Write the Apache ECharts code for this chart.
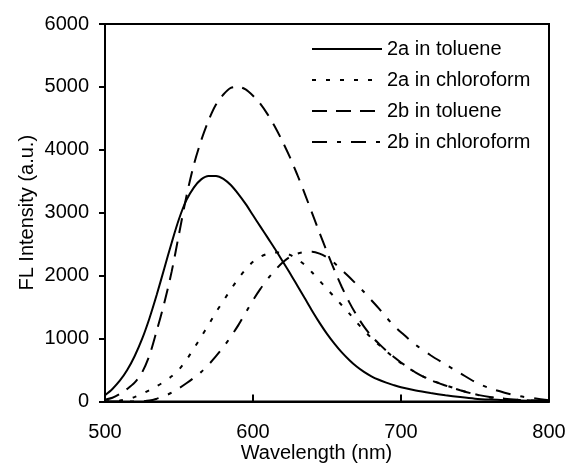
<!DOCTYPE html>
<html>
<head>
<meta charset="utf-8">
<script src="https://cdn.jsdelivr.net/npm/echarts@6/dist/echarts.min.js"></script>
<style>
html,body{margin:0;padding:0;background:#fff;}
#chart{width:569px;height:467px;}
</style>
</head>
<body>
<div id="chart"></div>
<script>
// Series names
var seriesNames = ['2a in toluene', '2a in chloroform', '2b in toluene', '2b in chloroform'];

// Wavelength samples (nm)
var wavelengths = [500, 505, 510, 515, 520, 525, 530, 535, 540, 545, 550, 555, 560, 565, 570, 575, 580, 585, 590, 595,
  600, 605, 610, 615, 620, 625, 630, 635, 640, 645, 650, 655, 660, 665, 670, 675, 680, 685, 690, 695,
  700, 710, 720, 730, 740, 750, 760, 770, 780, 790, 800];

// 2a in toluene (solid)
var int2aTol = [100, 200, 330, 500, 720, 990, 1320, 1700, 2110, 2520, 2900, 3200, 3400, 3530, 3585, 3585, 3540, 3440, 3300, 3140,
  2960, 2780, 2600, 2420, 2230, 2040, 1840, 1640, 1440, 1250, 1075, 920, 780, 660, 555, 470, 400, 345, 300, 260,
  225, 175, 135, 100, 70, 45, 30, 20, 15, 12, 10];

// 2a in chloroform (dotted)
var int2aChl = [0, 5, 15, 35, 70, 120, 180, 245, 315, 400, 510, 660, 840, 1030, 1220, 1420, 1600, 1780, 1950, 2100,
  2220, 2300, 2350, 2370, 2365, 2330, 2260, 2170, 2050, 1920, 1790, 1660, 1530, 1400, 1260, 1130, 1010, 900, 800, 700,
  610, 460, 345, 260, 180, 115, 65, 40, 25, 12, 5];

// 2b in toluene (dashed)
var int2bTol = [30, 60, 120, 200, 300, 460, 730, 1130, 1560, 2060, 2660, 3260, 3760, 4150, 4470, 4720, 4880, 4985, 5000, 4960,
  4860, 4730, 4560, 4360, 4130, 3880, 3600, 3300, 2990, 2680, 2380, 2090, 1820, 1580, 1370, 1190, 1040, 920, 810, 710,
  620, 460, 340, 255, 180, 115, 70, 45, 28, 15, 10];

// 2b in chloroform (dash-dot)
var int2bChl = [0, 0, 0, 0, 0, 3, 15, 45, 85, 140, 210, 290, 375, 470, 585, 720, 865, 1030, 1210, 1410,
  1610, 1790, 1950, 2090, 2210, 2300, 2350, 2375, 2380, 2350, 2290, 2200, 2090, 1980, 1860, 1740, 1610, 1480, 1340, 1210,
  1100, 900, 735, 590, 450, 310, 210, 140, 85, 50, 20];

// Axis ticks
var xTicks = [500, 600, 700, 800];
var yTicks = [0, 1000, 2000, 3000, 4000, 5000, 6000];

function pairs(xs, ys) { return xs.map(function (x, i) { return [x, ys[i]]; }); }

var FONT = 'Liberation Sans, Arial, sans-serif';
var dashTypes = ['solid', [4, 10], [15, 9], [15, 10, 4, 10]];
var allY = [int2aTol, int2aChl, int2bTol, int2bChl];

var chart = echarts.init(document.getElementById('chart'), null, {renderer: 'canvas'});
chart.setOption({
  animation: false,
  backgroundColor: '#fff',
  grid: {left: 105, right: 20, top: 24, bottom: 65.5, containLabel: false, outerBoundsMode: 'none',
    show: true, borderColor: '#000', borderWidth: 2, backgroundColor: 'transparent'},
  legend: {
    orient: 'vertical', left: 311, top: 39, padding: 0,
    itemWidth: 70, itemHeight: 14, itemGap: 11,
    data: seriesNames,
    itemStyle: {opacity: 0},
    textStyle: {fontFamily: FONT, fontSize: 20, color: '#000'}
  },
  xAxis: {
    type: 'value', min: xTicks[0], max: xTicks[xTicks.length - 1], interval: 100,
    name: 'Wavelength (nm)', nameLocation: 'middle', nameGap: 42, nameMoveOverlap: false,
    nameTextStyle: {fontFamily: FONT, fontSize: 20, color: '#000', padding: [0, 21, 0, 0]},
    axisLine: {show: true, lineStyle: {color: '#000', width: 2}},
    axisTick: {show: true, inside: true, length: 7, lineStyle: {color: '#000', width: 2}},
    axisLabel: {fontFamily: FONT, fontSize: 20, color: '#000', margin: 21, formatter: function (v) { return String(v); }},
    splitLine: {show: false}
  },
  yAxis: {
    type: 'value', min: yTicks[0], max: yTicks[yTicks.length - 1], interval: 1000,
    name: 'FL Intensity (a.u.)', nameLocation: 'middle', nameGap: 68, nameMoveOverlap: false,
    nameTextStyle: {fontFamily: FONT, fontSize: 20, color: '#000'},
    axisLine: {show: true, lineStyle: {color: '#000', width: 2}},
    axisTick: {show: true, inside: false, length: 6, lineStyle: {color: '#000', width: 2}},
    axisLabel: {fontFamily: FONT, fontSize: 20, color: '#000', margin: 16, formatter: function (v) { return String(v); }},
    splitLine: {show: false}
  },
  series: seriesNames.map(function (n, i) {
    return {
      name: n, type: 'line', symbol: 'none', showSymbol: false, smooth: 0.3,
      data: pairs(wavelengths, allY[i]),
      itemStyle: {color: '#000'},
      lineStyle: {color: '#000', width: 2, type: dashTypes[i]}
    };
  })
});
</script>
</body>
</html>
